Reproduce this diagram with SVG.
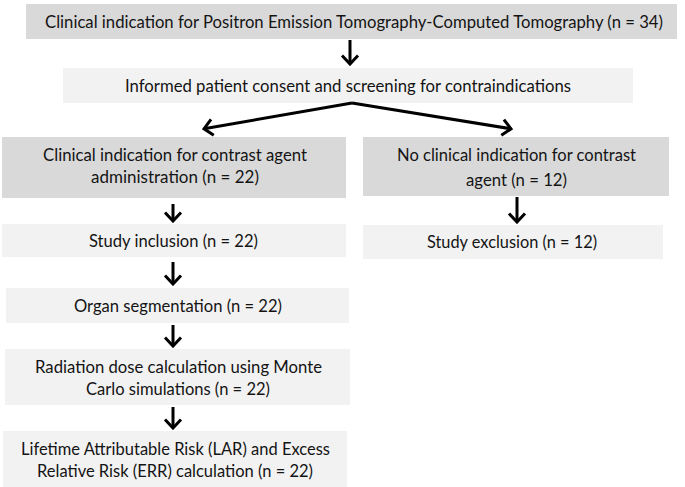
<svg xmlns="http://www.w3.org/2000/svg" width="685" height="487" viewBox="0 0 685 487">
<style>
.dark{fill:#d9d9d9}
.light{fill:#f2f2f2}
text{font-family:Lato,"Open Sans","Liberation Sans",sans-serif;font-size:16.5px;fill:#141414}
.c line{stroke:#000;stroke-width:3;fill:none}
</style>
<defs>
<marker id="chev" viewBox="-12 -10 14 20" refX="0" refY="0" markerWidth="14" markerHeight="20" markerUnits="userSpaceOnUse" orient="auto">
<path d="M-8.5,-8 L0,0 L-8.5,8" fill="none" stroke="#000" stroke-width="3"/>
</marker>
</defs>
<rect width="685" height="487" fill="#fff"/>
<g id="n1"><rect class="dark" x="26" y="4" width="651" height="35"/>
<text x="45" y="28" textLength="618" lengthAdjust="spacingAndGlyphs">Clinical indication for Positron Emission Tomography-Computed Tomography (n = 34)</text></g>
<g id="n2"><rect class="light" x="63" y="68" width="570" height="35"/>
<text x="125" y="92" textLength="446" lengthAdjust="spacingAndGlyphs">Informed patient consent and screening for contraindications</text></g>
<g id="n3"><rect class="dark" x="2" y="137" width="344" height="61"/>
<text x="43" y="161" textLength="264" lengthAdjust="spacingAndGlyphs">Clinical indication for contrast agent</text>
<text x="91" y="183" textLength="168" lengthAdjust="spacingAndGlyphs">administration (n = 22)</text></g>
<g id="n4"><rect class="dark" x="363" y="137" width="306" height="59"/>
<text x="397" y="161" textLength="239" lengthAdjust="spacingAndGlyphs">No clinical indication for contrast</text>
<text x="466" y="186" textLength="101" lengthAdjust="spacingAndGlyphs">agent (n = 12)</text></g>
<g id="n5"><rect class="light" x="2" y="224" width="344" height="33"/>
<text x="89" y="247" textLength="169" lengthAdjust="spacingAndGlyphs">Study inclusion (n = 22)</text></g>
<g id="n6"><rect class="light" x="363" y="225" width="300" height="34"/>
<text x="427" y="248" textLength="170" lengthAdjust="spacingAndGlyphs">Study exclusion (n = 12)</text></g>
<g id="n7"><rect class="light" x="6" y="288" width="343" height="35"/>
<text x="74" y="312" textLength="208" lengthAdjust="spacingAndGlyphs">Organ segmentation (n = 22)</text></g>
<g id="n8"><rect class="light" x="5" y="349" width="345" height="56"/>
<text x="35" y="373" textLength="287" lengthAdjust="spacingAndGlyphs">Radiation dose calculation using Monte</text>
<text x="86" y="395" textLength="184" lengthAdjust="spacingAndGlyphs">Carlo simulations (n = 22)</text></g>
<g id="n9"><rect class="light" x="3" y="431" width="344" height="56"/>
<text x="21" y="455" textLength="309" lengthAdjust="spacingAndGlyphs">Lifetime Attributable Risk (LAR) and Excess</text>
<text x="37" y="477" textLength="276" lengthAdjust="spacingAndGlyphs">Relative Risk (ERR) calculation (n = 22)</text></g>
<g id="connectors" class="c">
<line x1="350" y1="40" x2="350" y2="64" marker-end="url(#chev)"/>
<line x1="352" y1="103" x2="204" y2="128.8" marker-end="url(#chev)"/>
<line x1="352" y1="103" x2="511" y2="128.8" marker-end="url(#chev)"/>
<line x1="173" y1="204" x2="173" y2="221" marker-end="url(#chev)"/>
<line x1="517" y1="197" x2="517" y2="222" marker-end="url(#chev)"/>
<line x1="173" y1="262" x2="173" y2="284" marker-end="url(#chev)"/>
<line x1="173" y1="325" x2="173" y2="346" marker-end="url(#chev)"/>
<line x1="173" y1="407" x2="173" y2="428" marker-end="url(#chev)"/>
</g>
</svg>
